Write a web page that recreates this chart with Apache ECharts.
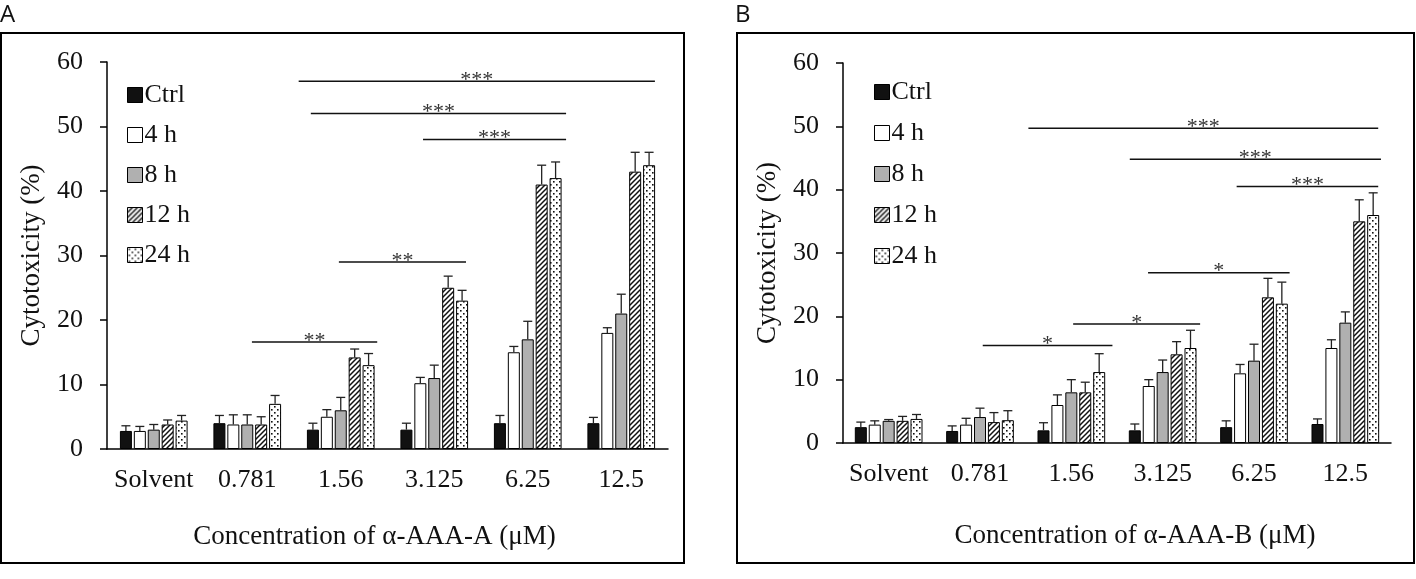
<!DOCTYPE html>
<html>
<head>
<meta charset="utf-8">
<title>Cytotoxicity of α-AAA-A and α-AAA-B</title>
<script src="https://cdn.jsdelivr.net/npm/echarts@6/dist/echarts.min.js"></script>
<style>
  html, body { margin: 0; padding: 0; background: #fff; }
  #chart { width: 1416px; height: 579px; }
</style>
</head>
<body>
<div id="chart"></div>
<script>
// categories and series
const categories = ["Solvent", "0.781", "1.56", "3.125", "6.25", "12.5"];
const seriesNames = ["Ctrl", "4 h", "8 h", "12 h", "24 h"];
const yTicks = [0, 10, 20, 30, 40, 50, 60];

// panel A: means and upper error
const ctrlA = [2.8, 4.0, 3.0, 3.0, 4.0, 4.0];
const h4A = [2.8, 3.8, 5.0, 10.2, 15.0, 18.0];
const h8A = [3.0, 3.8, 6.0, 11.0, 17.0, 21.0];
const h12A = [3.8, 3.8, 14.2, 25.0, 41.0, 43.0];
const h24A = [4.4, 7.0, 13.0, 23.0, 42.0, 44.0];
const ctrlErrA = [0.8, 1.2, 1.0, 1.0, 1.2, 0.9];
const h4ErrA = [0.7, 1.5, 1.1, 0.9, 0.9, 0.8];
const h8ErrA = [0.8, 1.5, 2.0, 2.0, 2.8, 3.0];
const h12ErrA = [0.7, 1.2, 1.3, 1.8, 3.0, 3.0];
const h24ErrA = [0.8, 1.3, 1.8, 1.6, 2.5, 2.0];

// panel B: means and upper error
const ctrlB = [2.5, 1.9, 2.0, 2.0, 2.5, 3.0];
const h4B = [2.9, 2.9, 6.0, 9.0, 11.0, 15.0];
const h8B = [3.5, 4.1, 8.0, 11.2, 13.0, 19.0];
const h12B = [3.5, 3.3, 8.0, 14.0, 23.0, 35.0];
const h24B = [3.8, 3.6, 11.2, 15.0, 22.0, 36.0];
const ctrlErrB = [0.8, 0.8, 1.2, 1.0, 1.0, 0.8];
const h4ErrB = [0.6, 1.0, 1.6, 1.0, 1.4, 1.3];
const h8ErrB = [0.2, 1.4, 2.0, 1.9, 2.6, 1.7];
const h12ErrB = [0.7, 1.5, 1.6, 2.0, 3.0, 3.4];
const h24ErrB = [0.7, 1.5, 2.9, 2.8, 3.4, 3.5];

// significance brackets: [from, to, y, stars], from/to in category units (0..6)
const sigA = [
    [2.05, 5.86, 57, "***"],
    [2.18, 4.91, 52, "***"],
    [3.38, 4.91, 48, "***"],
    [2.48, 3.84, 29, "**"],
    [1.55, 2.89, 16.6, "**"],
];
const sigB = [
    [2.03, 5.86, 49.7, "***"],
    [3.14, 5.89, 44.8, "***"],
    [4.31, 5.86, 40.5, "***"],
    [3.34, 4.89, 26.9, "*"],
    [2.52, 3.91, 18.8, "*"],
    [1.53, 2.95, 15.4, "*"],
];

const SERIF = "Liberation Serif, Times New Roman, serif";
const BAR_W = 12;
const BAR_GAP = 0.16;
const BAR_PITCH = BAR_W * (1 + BAR_GAP);

function hatchPattern() {
    const c = document.createElement("canvas");
    c.width = 5; c.height = 5;
    const g = c.getContext("2d");
    g.fillStyle = "#fff";
    g.fillRect(0, 0, 5, 5);
    g.strokeStyle = "#111";
    g.lineWidth = 1.5;
    g.beginPath();
    g.moveTo(-1, 6); g.lineTo(6, -1);
    g.moveTo(-1, 1); g.lineTo(1, -1);
    g.moveTo(4, 6); g.lineTo(6, 4);
    g.stroke();
    return c;
}

function dotPattern() {
    const c = document.createElement("canvas");
    c.width = 6; c.height = 6;
    const g = c.getContext("2d");
    g.fillStyle = "#fff";
    g.fillRect(0, 0, 6, 6);
    g.fillStyle = "#111";
    g.fillRect(1, 1, 1.6, 1.6);
    g.fillRect(4, 4, 1.6, 1.6);
    return c;
}

const fills = [
    "#111",
    "#fff",
    "#b0b0b0",
    { image: hatchPattern(), repeat: "repeat" },
    { image: dotPattern(), repeat: "repeat" },
];

function barSeries(values, k, gridIdx) {
    return {
        name: seriesNames[k],
        type: "bar",
        xAxisIndex: gridIdx * 2,
        yAxisIndex: gridIdx,
        data: values,
        barWidth: BAR_W,
        barGap: BAR_GAP * 100 + "%",
        itemStyle: { color: fills[k], borderColor: "#000", borderWidth: 1 },
        z: 2,
    };
}

function errorSeries(valueSets, errSets, gridIdx) {
    const data = [];
    valueSets.forEach(function (vals, k) {
        vals.forEach(function (v, i) {
            data.push([i, v, errSets[k][i], k]);
        });
    });
    return {
        type: "custom",
        xAxisIndex: gridIdx * 2,
        yAxisIndex: gridIdx,
        data: data,
        z: 5,
        silent: true,
        renderItem: function (params, api) {
            const k = api.value(3);
            const base = api.coord([api.value(0), api.value(1)]);
            const top = api.coord([api.value(0), api.value(1) + api.value(2)]);
            const x = base[0] + (k - 2) * BAR_PITCH;
            const st = { stroke: "#222", lineWidth: 1.3 };
            return {
                type: "group",
                children: [
                    { type: "line", shape: { x1: x, y1: base[1], x2: x, y2: top[1] }, style: st },
                    { type: "line", shape: { x1: x - 4.5, y1: top[1], x2: x + 4.5, y2: top[1] }, style: st },
                ],
            };
        },
    };
}

function sigSeries(rows, gridIdx) {
    return {
        type: "custom",
        xAxisIndex: gridIdx * 2 + 1,
        yAxisIndex: gridIdx,
        data: rows,
        z: 5,
        silent: true,
        renderItem: function (params, api) {
            const row = rows[params.dataIndex];
            const p1 = api.coord([row[0], row[2]]);
            const p2 = api.coord([row[1], row[2]]);
            return {
                type: "group",
                children: [
                    { type: "line", shape: { x1: p1[0], y1: p1[1], x2: p2[0], y2: p2[1] }, style: { stroke: "#111", lineWidth: 1.5 } },
                    {
                        type: "text",
                        x: (p1[0] + p2[0]) / 2,
                        y: p1[1] + 10,
                        style: { text: row[3], fill: "#333", font: "22px " + SERIF, align: "center", verticalAlign: "bottom" },
                    },
                ],
            };
        },
    };
}

function catAxis(gridIdx, name, pad) {
    return {
        type: "category",
        gridIndex: gridIdx,
        data: categories,
        axisLine: { lineStyle: { color: "#000", width: 1.5 } },
        axisTick: { show: false },
        axisLabel: { color: "#111", fontFamily: SERIF, fontSize: 26, margin: 18, interval: 0 },
        name: name,
        nameLocation: "middle",
        nameGap: gridIdx === 0 ? 74 : 79,
        nameTextStyle: { color: "#111", fontFamily: SERIF, fontSize: 27, padding: pad },
    };
}

function posAxis(gridIdx) {
    return { type: "value", gridIndex: gridIdx, min: 0, max: 6, show: false };
}

function valAxis(gridIdx) {
    return {
        type: "value",
        gridIndex: gridIdx,
        min: yTicks[0],
        max: yTicks[yTicks.length - 1],
        interval: 10,
        axisLine: { show: true, lineStyle: { color: "#000", width: 1.5 } },
        axisTick: { show: true, length: 7, lineStyle: { color: "#000", width: 1.5 } },
        splitLine: { show: false },
        axisLabel: { color: "#111", fontFamily: SERIF, fontSize: 26, margin: 24 },
        name: "Cytotoxicity (%)",
        nameLocation: "middle",
        nameGap: 62,
        nameTextStyle: { color: "#111", fontFamily: SERIF, fontSize: 27 },
    };
}

function legendFor(left, top, gap) {
    return {
        data: seriesNames.map(function (n) { return { name: n, icon: "rect" }; }),
        orient: "vertical",
        left: left,
        top: top,
        itemWidth: 15,
        itemHeight: 15,
        itemGap: gap,
        selectedMode: false,
        textStyle: { color: "#111", fontFamily: SERIF, fontSize: 26, padding: [0, 0, 0, -3] },
        itemStyle: { borderColor: "#000", borderWidth: 1 },
    };
}

const setsA = [ctrlA, h4A, h8A, h12A, h24A];
const errsA = [ctrlErrA, h4ErrA, h8ErrA, h12ErrA, h24ErrA];
const setsB = [ctrlB, h4B, h8B, h12B, h24B];
const errsB = [ctrlErrB, h4ErrB, h8ErrB, h12ErrB, h24ErrB];

const series = [];
setsA.forEach(function (vals, k) { series.push(barSeries(vals, k, 0)); });
setsB.forEach(function (vals, k) { series.push(barSeries(vals, k, 1)); });
series.push(errorSeries(setsA, errsA, 0));
series.push(errorSeries(setsB, errsB, 1));
series.push(sigSeries(sigA, 0));
series.push(sigSeries(sigB, 1));

const chart = echarts.init(document.getElementById("chart"), null, { renderer: "canvas" });
chart.setOption({
    animation: false,
    backgroundColor: "#fff",
    grid: [
        { left: 107, top: 62, width: 561, height: 387 },
        { left: 843, top: 63, width: 548, height: 380 },
    ],
    xAxis: [
        catAxis(0, "Concentration of α-AAA-A (μM)", [0, 26, 0, 0]),
        posAxis(0),
        catAxis(1, "Concentration of α-AAA-B (μM)", [0, 0, 0, 36]),
        posAxis(1),
    ],
    yAxis: [valAxis(0), valAxis(1)],
    legend: [legendFor(122, 77, 14), legendFor(869, 74, 15)],
    graphic: [
        { type: "rect", shape: { x: 1, y: 33, width: 683, height: 530 }, style: { fill: "none", stroke: "#000", lineWidth: 2 } },
        { type: "rect", shape: { x: 737, y: 33, width: 677, height: 530 }, style: { fill: "none", stroke: "#000", lineWidth: 2 } },
        { type: "text", left: 0, top: 3, style: { text: "A", font: "24px Open Sans, sans-serif", fill: "#111" } },
        { type: "text", left: 735, top: 3, style: { text: "B", font: "24px Open Sans, sans-serif", fill: "#111" } },
    ],
    series: series,
});

window.addEventListener("resize", function () {
    chart.resize();
});
</script>
</body>
</html>
